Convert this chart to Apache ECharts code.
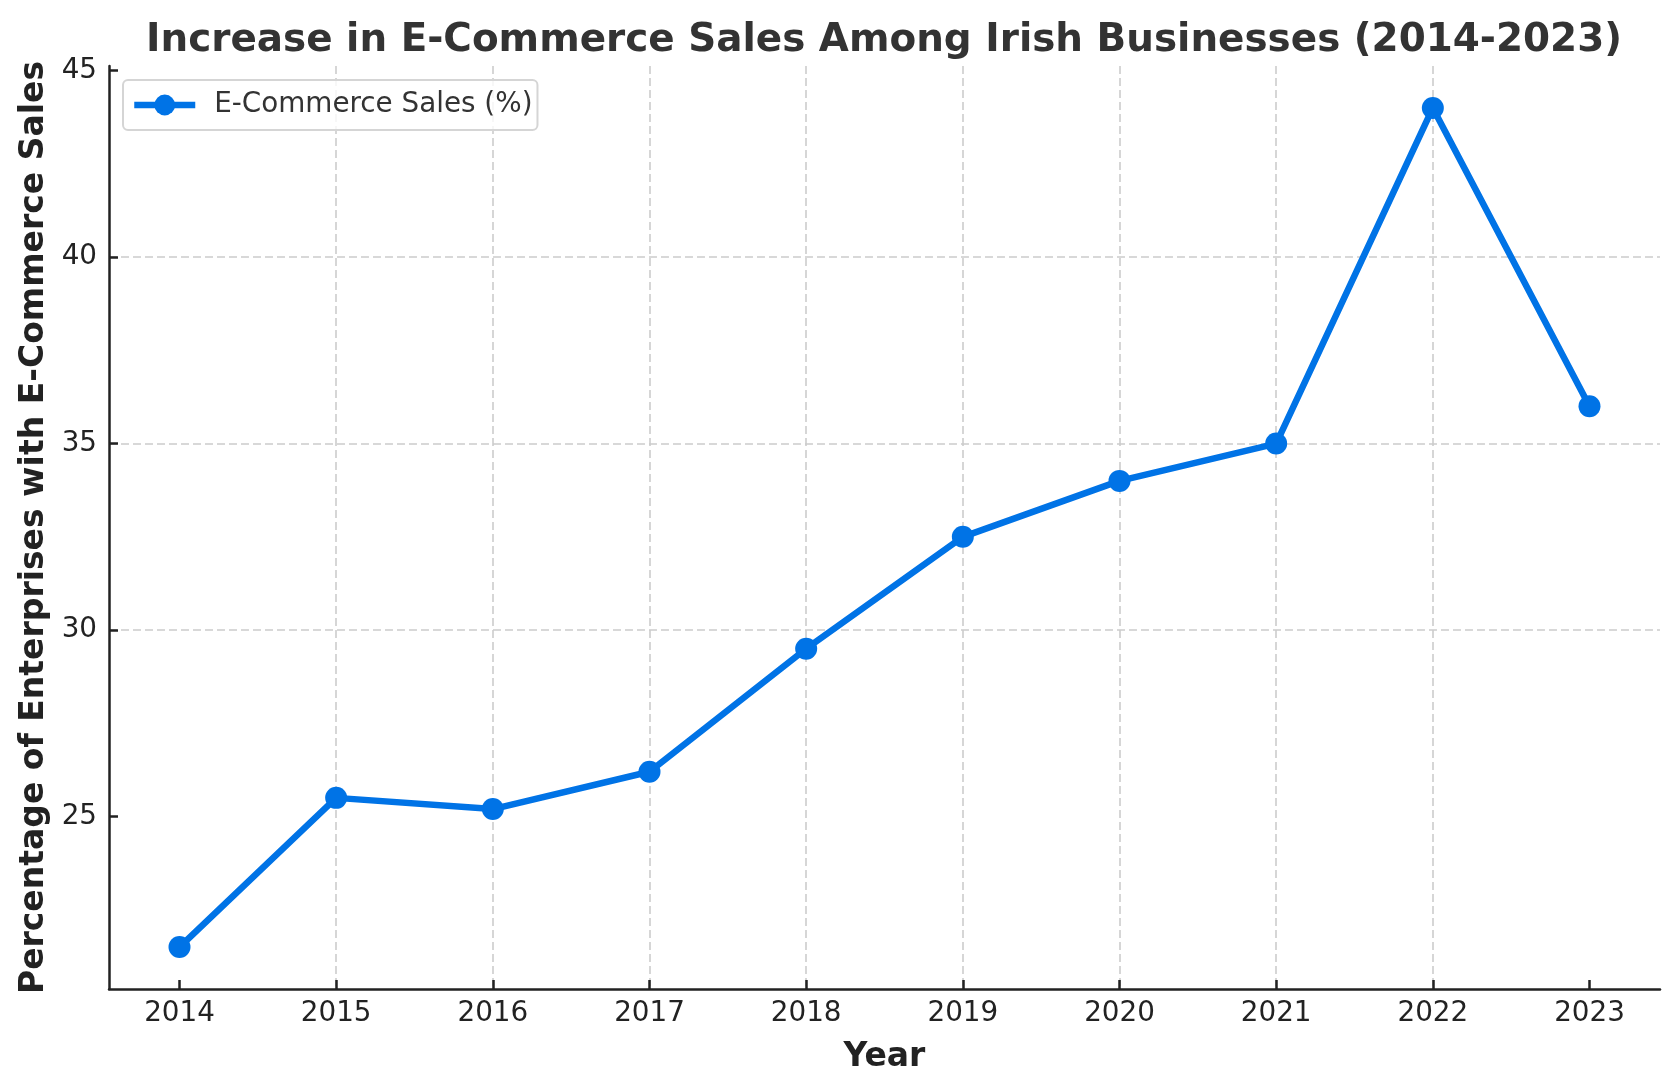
<!DOCTYPE html>
<html>
<head>
<meta charset="utf-8">
<title>E-Commerce Sales</title>
<script src="https://cdn.jsdelivr.net/npm/echarts@6/dist/echarts.min.js"></script>
<style>
  html, body { margin: 0; padding: 0; background: #fff; }
  #content { width: 1679px; height: 1092px; }
</style>
</head>
<body>
<div id="content"></div>
<script>
// data
var years = [2014, 2015, 2016, 2017, 2018, 2019, 2020, 2021, 2022, 2023];
var sales = [21.5, 25.5, 25.2, 26.2, 29.5, 32.5, 34, 35, 44, 36];
var yTicks = [25, 30, 35, 40, 45];

var font = "DejaVu Sans";
var blue = "#0073E6";

var points = [];
for (var i = 0; i < years.length; i++) {
    points.push([years[i], sales[i]]);
}

var myChart = echarts.init(document.getElementById("content"));
myChart.setOption({
    animation: false,
    title: {
        text: "Increase in E-Commerce Sales Among Irish Businesses (2014-2023)",
        left: 879,
        textAlign: "center",
        top: 16,
        textStyle: {
            fontFamily: font,
            fontSize: 38.9,
            fontWeight: "bold",
            color: "#333"
        }
    },
    legend: {
        left: 123,
        top: 80,
        padding: [11, 5, 11, 8],
        itemWidth: 61,
        itemHeight: 26,
        borderColor: "#d5d5d5",
        borderWidth: 2,
        borderRadius: 5,
        backgroundColor: "rgba(255,255,255,0.8)",
        lineStyle: { width: 6.5, color: blue },
        textStyle: {
            fontFamily: font,
            fontSize: 27.8,
            color: "#333",
            padding: [0, 6, 0, 14]
        },
        data: ["E-Commerce Sales (%)"]
    },
    grid: {
        left: 109,
        right: 19,
        top: 66,
        bottom: 103,
        containLabel: false
    },
    xAxis: {
        type: "value",
        min: 2013.55,
        max: 2023.45,
        splitNumber: 10,
        name: "Year",
        nameLocation: "middle",
        nameGap: 52,
        nameTextStyle: {
            fontFamily: font,
            fontSize: 33,
            fontWeight: "bold",
            color: "#222"
        },
        axisLine: { lineStyle: { color: "#222", width: 2.5 } },
        axisTick: {
            inside: true,
            length: 9,
            customValues: years,
            lineStyle: { color: "#222", width: 2.5 }
        },
        axisLabel: {
            margin: 11,
            customValues: years,
            fontFamily: font,
            fontSize: 27.8,
            color: "#222",
            formatter: function(v) { return String(v); }
        },
        splitLine: {
            show: true,
            showMinLine: false,
            showMaxLine: false,
            lineStyle: { color: "#cccccc", width: 1.6, type: [8, 4] }
        }
    },
    yAxis: {
        type: "value",
        min: 20.375,
        max: 45.125,
        splitNumber: 5,
        name: "Percentage of Enterprises with E-Commerce Sales",
        nameLocation: "middle",
        nameGap: 58,
        nameTextStyle: {
            fontFamily: font,
            fontSize: 33,
            fontWeight: "bold",
            color: "#222"
        },
        axisLine: { show: true, lineStyle: { color: "#222", width: 2.5 } },
        axisTick: {
            show: true,
            inside: true,
            length: 9,
            customValues: yTicks,
            lineStyle: { color: "#222", width: 2.5 }
        },
        axisLabel: {
            margin: 12,
            customValues: yTicks,
            fontFamily: font,
            fontSize: 27.8,
            color: "#222"
        },
        splitLine: {
            show: true,
            showMinLine: false,
            showMaxLine: false,
            lineStyle: { color: "#cccccc", width: 1.6, type: [8, 4] }
        }
    },
    series: [{
        name: "E-Commerce Sales (%)",
        type: "line",
        data: points,
        symbol: "circle",
        symbolSize: 22,
        itemStyle: { color: blue },
        lineStyle: { color: blue, width: 6.5 }
    }]
});
</script>
</body>
</html>
